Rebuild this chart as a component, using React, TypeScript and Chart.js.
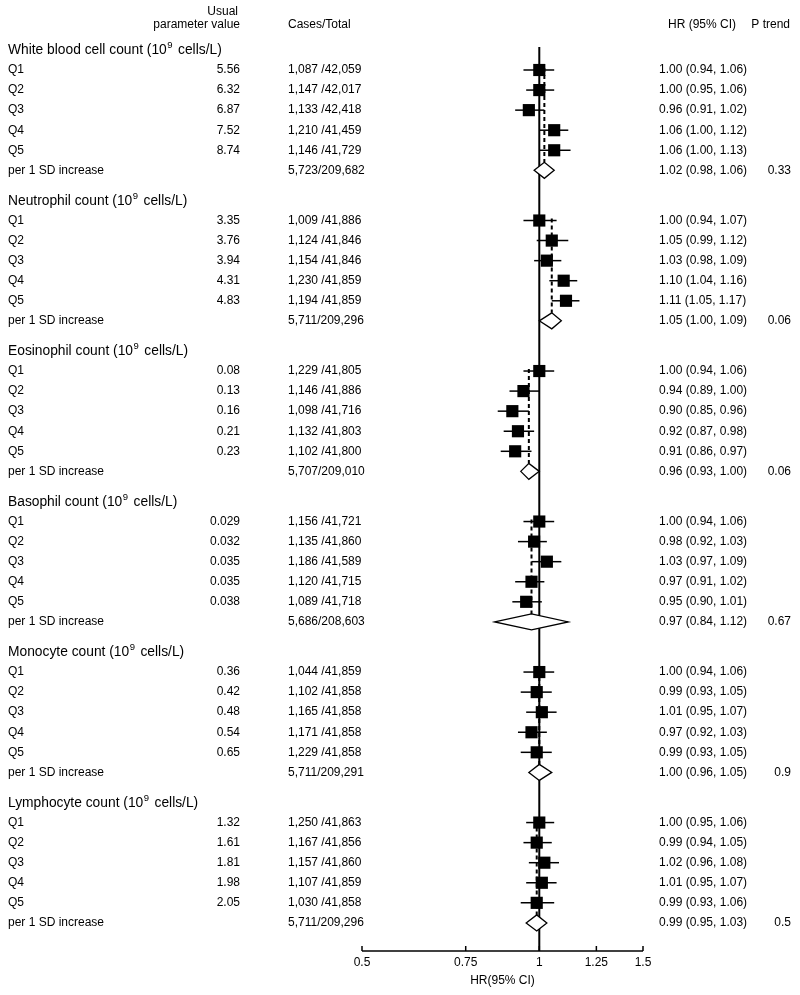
import { useEffect, useRef } from "react";
import { Chart, registerables } from "chart.js";

Chart.register(...registerables);

// ---------- data ----------
const groupNames = [
  "White blood cell count",
  "Neutrophil count",
  "Eosinophil count",
  "Basophil count",
  "Monocyte count",
  "Lymphocyte count",
];
const unitPrefix = " (10";
const unitSup = "9";
const unitSuffix = "cells/L)";
const quintileLabels = ["Q1", "Q2", "Q3", "Q4", "Q5"];
const trendLabel = "per 1 SD increase";

const usualValues = [
  ["5.56", "6.32", "6.87", "7.52", "8.74"],
  ["3.35", "3.76", "3.94", "4.31", "4.83"],
  ["0.08", "0.13", "0.16", "0.21", "0.23"],
  ["0.029", "0.032", "0.035", "0.035", "0.038"],
  ["0.36", "0.42", "0.48", "0.54", "0.65"],
  ["1.32", "1.61", "1.81", "1.98", "2.05"],
];

const quintileCases = [
  [1087, 1147, 1133, 1210, 1146],
  [1009, 1124, 1154, 1230, 1194],
  [1229, 1146, 1098, 1132, 1102],
  [1156, 1135, 1186, 1120, 1089],
  [1044, 1102, 1165, 1171, 1229],
  [1250, 1167, 1157, 1107, 1030],
];
const quintileTotals = [
  [42059, 42017, 42418, 41459, 41729],
  [41886, 41846, 41846, 41859, 41859],
  [41805, 41886, 41716, 41803, 41800],
  [41721, 41860, 41589, 41715, 41718],
  [41859, 41858, 41858, 41858, 41858],
  [41863, 41856, 41860, 41859, 41858],
];
const trendCases = [5723, 5711, 5707, 5686, 5711, 5711];
const trendTotals = [209682, 209296, 209010, 208603, 209291, 209296];

const quintileHR = [
  [1.0, 1.0, 0.96, 1.06, 1.06],
  [1.0, 1.05, 1.03, 1.1, 1.11],
  [1.0, 0.94, 0.9, 0.92, 0.91],
  [1.0, 0.98, 1.03, 0.97, 0.95],
  [1.0, 0.99, 1.01, 0.97, 0.99],
  [1.0, 0.99, 1.02, 1.01, 0.99],
];
const quintileLo = [
  [0.94, 0.95, 0.91, 1.0, 1.0],
  [0.94, 0.99, 0.98, 1.04, 1.05],
  [0.94, 0.89, 0.85, 0.87, 0.86],
  [0.94, 0.92, 0.97, 0.91, 0.9],
  [0.94, 0.93, 0.95, 0.92, 0.93],
  [0.95, 0.94, 0.96, 0.95, 0.93],
];
const quintileHi = [
  [1.06, 1.06, 1.02, 1.12, 1.13],
  [1.07, 1.12, 1.09, 1.16, 1.17],
  [1.06, 1.0, 0.96, 0.98, 0.97],
  [1.06, 1.03, 1.09, 1.02, 1.01],
  [1.06, 1.05, 1.07, 1.03, 1.05],
  [1.06, 1.05, 1.08, 1.07, 1.06],
];
const trendHR = [1.02, 1.05, 0.96, 0.97, 1.0, 0.99];
const trendLo = [0.98, 1.0, 0.93, 0.84, 0.96, 0.95];
const trendHi = [1.06, 1.09, 1.0, 1.12, 1.05, 1.03];
const pTrend = ["0.33", "0.06", "0.06", "0.67", "0.9", "0.5"];

const xTicks = [0.5, 0.75, 1, 1.25, 1.5];
const xTitle = "HR(95% CI)";
const headerUsual1 = "Usual";
const headerUsual2 = "parameter value";
const headerCases = "Cases/Total";
const headerHR = "HR (95% CI)";
const headerP = "P trend";

// ---------- layout helpers ----------
const ROWS_PER_GROUP = 7.5;
const rowPos = (g: number, r: number) => g * ROWS_PER_GROUP + r;
const FONT = '"Liberation Sans", Arial, sans-serif';
const fmt = (n: number) => n.toLocaleString("en-US");
const f2 = (n: number) => n.toFixed(2);

const COL_LABEL = 8;
const COL_USUAL = 240;
const COL_CASES = 288;
const COL_HR = 659;
const COL_P = 791;

const forestPlugin = {
  id: "forest",
  beforeDatasetsDraw(chart: any) {
    const { ctx, chartArea, scales } = chart;
    const x = scales.x;
    const y = scales.y;
    ctx.save();
    ctx.strokeStyle = "#000";
    // reference line at HR = 1
    const x1 = x.getPixelForValue(1);
    ctx.lineWidth = 2;
    ctx.beginPath();
    ctx.moveTo(x1, chartArea.top);
    ctx.lineTo(x1, chartArea.bottom);
    ctx.stroke();

    // dashed lines at per-SD estimate
    ctx.setLineDash([4, 3]);
    ctx.lineWidth = 2;
    groupNames.forEach((_, g) => {
      const xs = x.getPixelForValue(trendHR[g]);
      ctx.beginPath();
      ctx.moveTo(xs, y.getPixelForValue(rowPos(g, 1)) - 2);
      ctx.lineTo(xs, y.getPixelForValue(rowPos(g, 6)) - 8);
      ctx.stroke();
    });
    ctx.setLineDash([]);

    // CI lines
    ctx.lineWidth = 1.5;
    groupNames.forEach((_, g) => {
      quintileLabels.forEach((__, i) => {
        const yp = y.getPixelForValue(rowPos(g, i + 1));
        ctx.beginPath();
        ctx.moveTo(x.getPixelForValue(quintileLo[g][i]), yp);
        ctx.lineTo(x.getPixelForValue(quintileHi[g][i]), yp);
        ctx.stroke();
      });
    });

    // diamonds
    groupNames.forEach((_, g) => {
      const yp = y.getPixelForValue(rowPos(g, 6));
      const xl = x.getPixelForValue(trendLo[g]);
      const xm = x.getPixelForValue(trendHR[g]);
      const xh = x.getPixelForValue(trendHi[g]);
      ctx.beginPath();
      ctx.moveTo(xl, yp);
      ctx.lineTo(xm, yp - 8);
      ctx.lineTo(xh, yp);
      ctx.lineTo(xm, yp + 8);
      ctx.closePath();
      ctx.fillStyle = "#fff";
      ctx.fill();
      ctx.lineWidth = 1.3;
      ctx.stroke();
    });
    ctx.restore();
  },
  afterDraw(chart: any) {
    const { ctx, chartArea, scales } = chart;
    const x = scales.x;
    const y = scales.y;
    ctx.save();
    // axis line with upward ticks
    ctx.strokeStyle = "#000";
    ctx.lineWidth = 1.5;
    const ay = chartArea.bottom;
    ctx.beginPath();
    ctx.moveTo(x.getPixelForValue(xTicks[0]), ay);
    ctx.lineTo(x.getPixelForValue(xTicks[xTicks.length - 1]), ay);
    ctx.stroke();
    xTicks.forEach((t) => {
      const px = x.getPixelForValue(t);
      ctx.beginPath();
      ctx.moveTo(px, ay);
      ctx.lineTo(px, ay - 5);
      ctx.stroke();
    });

    // texts
    ctx.fillStyle = "#000";
    ctx.font = `12px ${FONT}`;
    ctx.textBaseline = "middle";

    const text = (s: string, px: number, py: number, align: CanvasTextAlign) => {
      ctx.textAlign = align;
      ctx.fillText(s, px, py);
    };

    // headers
    text(headerUsual1, 238, 12, "right");
    text(headerUsual2, COL_USUAL, 25, "right");
    text(headerCases, COL_CASES, 25, "left");
    text(headerHR, 668, 25, "left");
    text(headerP, COL_P - 1, 25, "right");

    groupNames.forEach((name, g) => {
      // title with superscript
      const yt = y.getPixelForValue(rowPos(g, 0)) + 0.5;
      const main = name + unitPrefix;
      ctx.font = `13.8px ${FONT}`;
      text(main, COL_LABEL, yt, "left");
      const w = ctx.measureText(main).width;
      ctx.font = `9.5px ${FONT}`;
      text(unitSup, COL_LABEL + w + 0.5, yt - 5, "left");
      const ws = ctx.measureText(unitSup).width;
      ctx.font = `13.8px ${FONT}`;
      text(unitSuffix, COL_LABEL + w + ws + 6, yt, "left");

      ctx.font = `12px ${FONT}`;
      quintileLabels.forEach((q, i) => {
        const yp = y.getPixelForValue(rowPos(g, i + 1));
        text(q, COL_LABEL, yp, "left");
        text(usualValues[g][i], COL_USUAL, yp, "right");
        text(`${fmt(quintileCases[g][i])} /${fmt(quintileTotals[g][i])}`, COL_CASES, yp, "left");
        text(`${f2(quintileHR[g][i])} (${f2(quintileLo[g][i])}, ${f2(quintileHi[g][i])})`, COL_HR, yp, "left");
      });
      const ys = y.getPixelForValue(rowPos(g, 6));
      text(trendLabel, COL_LABEL, ys, "left");
      text(`${fmt(trendCases[g])}/${fmt(trendTotals[g])}`, COL_CASES, ys, "left");
      text(`${f2(trendHR[g])} (${f2(trendLo[g])}, ${f2(trendHi[g])})`, COL_HR, ys, "left");
      text(pTrend[g], COL_P, ys, "right");
    });
    ctx.restore();
  },
};

export default function App() {
  const canvasRef = useRef<HTMLCanvasElement | null>(null);

  useEffect(() => {
    if (!canvasRef.current) return;
    Chart.defaults.font.family = FONT;
    Chart.defaults.font.size = 12;
    Chart.defaults.color = "#000";

    const squares: { x: number; y: number }[] = [];
    groupNames.forEach((_, g) => {
      quintileHR[g].forEach((hr, i) => squares.push({ x: hr, y: rowPos(g, i + 1) }));
    });

    const chart = new Chart(canvasRef.current, {
      type: "scatter",
      data: {
        datasets: [
          {
            data: squares,
            pointStyle: "rect",
            pointRadius: 8.6,
            pointHoverRadius: 8.6,
            backgroundColor: "#000",
            borderWidth: 0,
          },
        ],
      },
      options: {
        animation: false,
        responsive: false,
        events: [],
        layout: { padding: { left: 362, right: 157, top: 47, bottom: 0 } },
        plugins: { legend: { display: false }, tooltip: { enabled: false } },
        scales: {
          x: {
            type: "logarithmic",
            min: 0.5,
            max: 1.5,
            afterBuildTicks: (scale: any) => {
              scale.ticks = xTicks.map((v) => ({ value: v }));
            },
            afterFit: (scale: any) => {
              scale.height = 44;
            },
            ticks: {
              autoSkip: false,
              maxRotation: 0,
              padding: 4,
              color: "#000",
              font: { size: 12, family: FONT },
              callback: (v: any) => String(v),
            },
            grid: { display: false, drawTicks: false },
            border: { display: false },
            title: {
              display: true,
              text: xTitle,
              color: "#000",
              font: { size: 12, family: FONT },
              padding: { top: 0, bottom: 7 },
            },
          },
          y: {
            type: "linear",
            display: false,
            reverse: true,
            min: -0.146,
            max: 44.9,
          },
        },
      },
      plugins: [forestPlugin],
    });
    return () => chart.destroy();
  }, []);

  return (
    <div style={{ position: "absolute", left: 0, top: 0, width: 800, height: 995, background: "#fff" }}>
      <canvas ref={canvasRef} width={800} height={995} />
    </div>
  );
}
